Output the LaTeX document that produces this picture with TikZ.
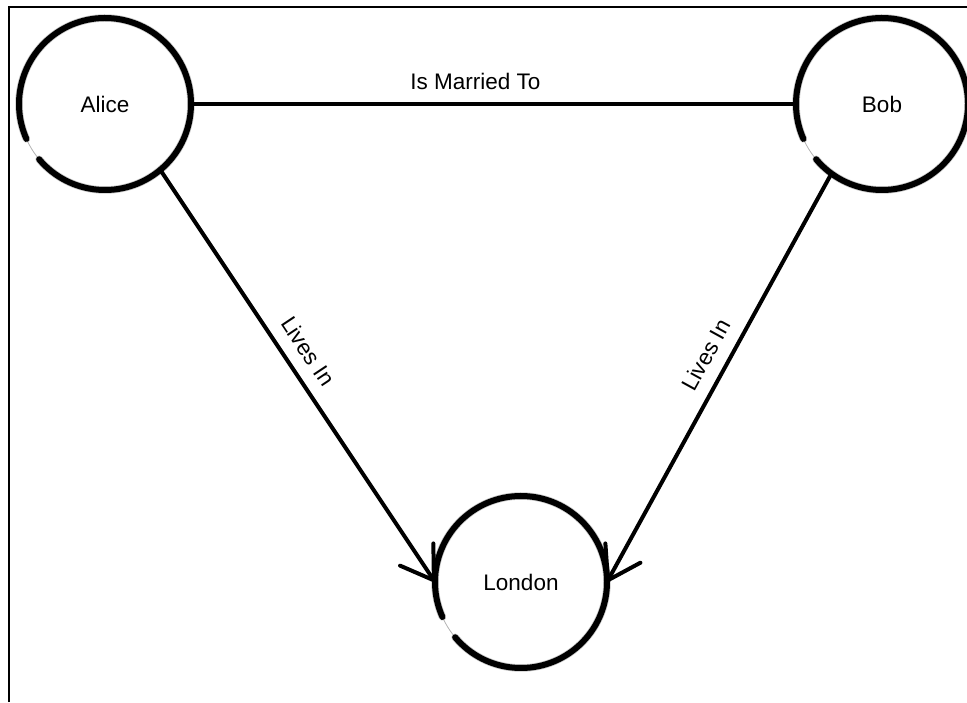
\documentclass[tikz,border=0pt]{standalone}
\usepackage{fontspec}
\setmainfont{Liberation Sans}
\usetikzlibrary{arrows.meta}
\begin{document}
\begin{tikzpicture}[x=1pt,y=1pt,
  person/.style={circle, minimum size=172pt, inner sep=0pt, outer sep=0pt,
    font=\fontsize{22.5}{27}\selectfont},
  ringtrace/.style={line width=0.8pt, black!30},
  ringhalo/.style={line width=7.5pt, line cap=round, black!22},
  ring/.style={line width=6pt, line cap=round, black},
  plain/.style={line width=4pt},
  link/.style={line width=4pt, -{Straight Barb[length=31pt,width=40pt,round]}},
  rel/.style={font=\fontsize{22.5}{27}\selectfont, above=9pt},
  frame/.style={line width=1.5pt}
]
\useasboundingbox (0,0) rectangle (967,702);

% frame edges
\draw[frame] (9,0) -- (9,695) -- (967,695);

% people and place
\node[person] (alice)  at (105,598) {Alice};
\node[person] (bob)    at (882,598) {Bob};
\node[person] (london) at (521,120) {London};

% hand-drawn rings with a small gap at the lower left
\foreach \n in {alice,bob,london}{
  \draw[ringtrace] (\n) circle[radius=86];
  \draw[ringhalo] (\n.220) arc[start angle=220, end angle=564, radius=86];
  \draw[ring] (\n.220) arc[start angle=220, end angle=564, radius=86];
}

% relations
\draw[plain] (alice.east) -- (bob.west)
  node[rel, pos=0.47] {Is Married To};
\draw[link] (alice.-50) -- (london.west)
  node[rel, sloped, pos=0.47] {Lives In};
\draw[link] (bob.234) -- (london.east)
  node[rel, sloped, pos=0.47] {Lives In};
\end{tikzpicture}
\end{document}
